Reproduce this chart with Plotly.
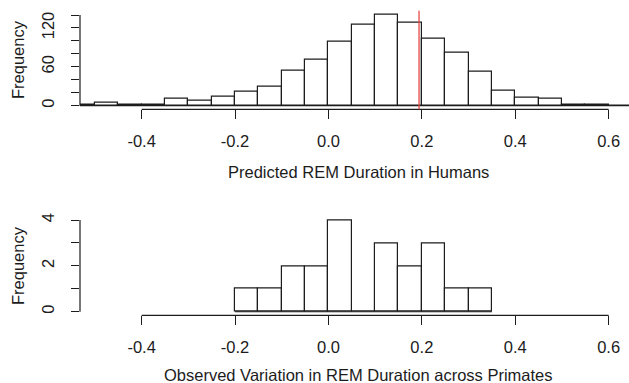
import plotly.graph_objects as go

# ---- data ----
bin_width = 0.05
pred_bin_starts = [-0.55, -0.50, -0.45, -0.40, -0.35, -0.30, -0.25, -0.20, -0.15, -0.10,
                   -0.05, 0.00, 0.05, 0.10, 0.15, 0.20, 0.25, 0.30, 0.35, 0.40,
                   0.45, 0.50, 0.55, 0.60]
pred_counts = [1, 4, 2, 2, 10, 8, 14, 21, 30, 54,
               71, 99, 125, 141, 128, 103, 82, 53, 23, 13,
               10, 2, 1, 0]

obs_bin_starts = [-0.20, -0.15, -0.10, -0.05, 0.00, 0.05, 0.10, 0.15, 0.20, 0.25, 0.30]
obs_counts = [1, 1, 2, 2, 4, 0, 3, 2, 3, 1, 1]

observed_human_rem = 0.194

x_tickvals = [-0.4, -0.2, 0.0, 0.2, 0.4, 0.6]
x_ticktext = ["-0.4", "-0.2", "0.0", "0.2", "0.4", "0.6"]
top_y_tickvals = [0, 20, 40, 60, 80, 100, 120, 140]
top_y_ticktext = ["0", "", "", "60", "", "", "120", ""]
bot_y_tickvals = [0, 1, 2, 3, 4]
bot_y_ticktext = ["0", "", "2", "", "4"]

top_xlabel = "Predicted REM Duration in Humans"
bot_xlabel = "Observed Variation in REM Duration across Primates"
ylabel = "Frequency"

# ---- styling ----
FONT = "Liberation Sans, Arial, Helvetica, sans-serif"
FS = 16.5
INK = "#1c1c1c"
XRANGE = [-0.532, 0.6436]

def centers(starts):
    return [s + bin_width / 2 for s in starts]

def ylim(counts):
    m = max(counts)
    return [-0.04 * m, 1.04 * m]

fig = go.Figure()
bar_style = dict(color="white", line=dict(color=INK, width=1.2))
fig.add_trace(go.Bar(x=centers(pred_bin_starts), y=pred_counts, width=bin_width,
                     marker=bar_style, xaxis="x", yaxis="y", showlegend=False,
                     hoverinfo="x+y"))
fig.add_trace(go.Bar(x=centers(obs_bin_starts), y=obs_counts, width=bin_width,
                     marker=bar_style, xaxis="x2", yaxis="y2", showlegend=False,
                     hoverinfo="x+y"))

xaxis_common = dict(range=XRANGE, showgrid=False, zeroline=False, showline=False,
                    ticks="outside", ticklen=9, tickwidth=1.2, tickcolor=INK,
                    tickvals=x_tickvals, ticktext=x_ticktext,
                    tickfont=dict(family=FONT, size=FS, color=INK),
                    ticklabelstandoff=8, automargin=False, fixedrange=True)
yaxis_common = dict(showgrid=False, zeroline=False, showline=False,
                    ticks="outside", ticklen=8, tickwidth=1.2, tickcolor=INK,
                    tickangle=-90, tickfont=dict(family=FONT, size=FS, color=INK),
                    ticklabelstandoff=10, automargin=False, fixedrange=True)

fig.update_layout(
    width=629, height=383,
    margin=dict(l=80, r=0, t=0, b=0),
    paper_bgcolor="white", plot_bgcolor="white",
    bargap=0,
    xaxis=dict(**xaxis_common, domain=[0, 1], anchor="y"),
    yaxis=dict(**yaxis_common, domain=[0.7146, 0.972], range=ylim(pred_counts),
               tickvals=top_y_tickvals, ticktext=top_y_ticktext, anchor="x"),
    xaxis2=dict(**xaxis_common, domain=[0, 1], anchor="y2"),
    yaxis2=dict(**yaxis_common, domain=[0.1765, 0.435], range=ylim(obs_counts),
                tickvals=bot_y_tickvals, ticktext=bot_y_ticktext, anchor="x2"),
)

line_style = dict(color=INK, width=1.2)
shapes = [
    # R-style axis lines spanning first to last tick
    dict(type="line", xref="x", yref="y domain", x0=x_tickvals[0], x1=x_tickvals[-1],
         y0=0, y1=0, line=line_style),
    dict(type="line", xref="x2", yref="y2 domain", x0=x_tickvals[0], x1=x_tickvals[-1],
         y0=0, y1=0, line=line_style),
    dict(type="line", xref="x domain", yref="y", x0=0, x1=0,
         y0=top_y_tickvals[0], y1=top_y_tickvals[-1], line=line_style),
    dict(type="line", xref="x2 domain", yref="y2", x0=0, x1=0,
         y0=bot_y_tickvals[0], y1=bot_y_tickvals[-1], line=line_style),
    # histogram baselines (zero-count bins drawn as flat lines, like R)
    dict(type="line", xref="x", yref="y", x0=pred_bin_starts[0],
         x1=pred_bin_starts[-1] + bin_width, y0=0, y1=0, line=line_style),
    dict(type="line", xref="x2", yref="y2", x0=obs_bin_starts[0],
         x1=obs_bin_starts[-1] + bin_width, y0=0, y1=0, line=line_style),
    # observed human value
    dict(type="line", xref="x", yref="y domain", x0=observed_human_rem, x1=observed_human_rem,
         y0=0, y1=1, line=dict(color="rgba(230,70,70,0.8)", width=1.6)),
]
fig.update_layout(shapes=shapes)

def px_x(p):
    return (p - 80) / 549.0

def px_y(p):
    return 1 - p / 383.0

tfont = dict(family=FONT, size=FS, color=INK)
fig.update_layout(annotations=[
    dict(text=top_xlabel, xref="paper", yref="paper", x=px_x(358), y=px_y(171.7),
         xanchor="center", yanchor="middle", showarrow=False, font=tfont),
    dict(text=bot_xlabel, xref="paper", yref="paper", x=px_x(358), y=px_y(375),
         xanchor="center", yanchor="middle", showarrow=False, font=tfont),
    dict(text=ylabel, xref="paper", yref="paper", x=px_x(18), y=px_y(60),
         xanchor="center", yanchor="middle", textangle=-90, showarrow=False, font=tfont),
    dict(text=ylabel, xref="paper", yref="paper", x=px_x(18), y=px_y(266),
         xanchor="center", yanchor="middle", textangle=-90, showarrow=False, font=tfont),
])

fig.write_html(
    "out.html",
    config={"displayModeBar": False, "staticPlot": False},
    post_script="document.body.style.margin='0';document.body.style.overflow='hidden';",
)
